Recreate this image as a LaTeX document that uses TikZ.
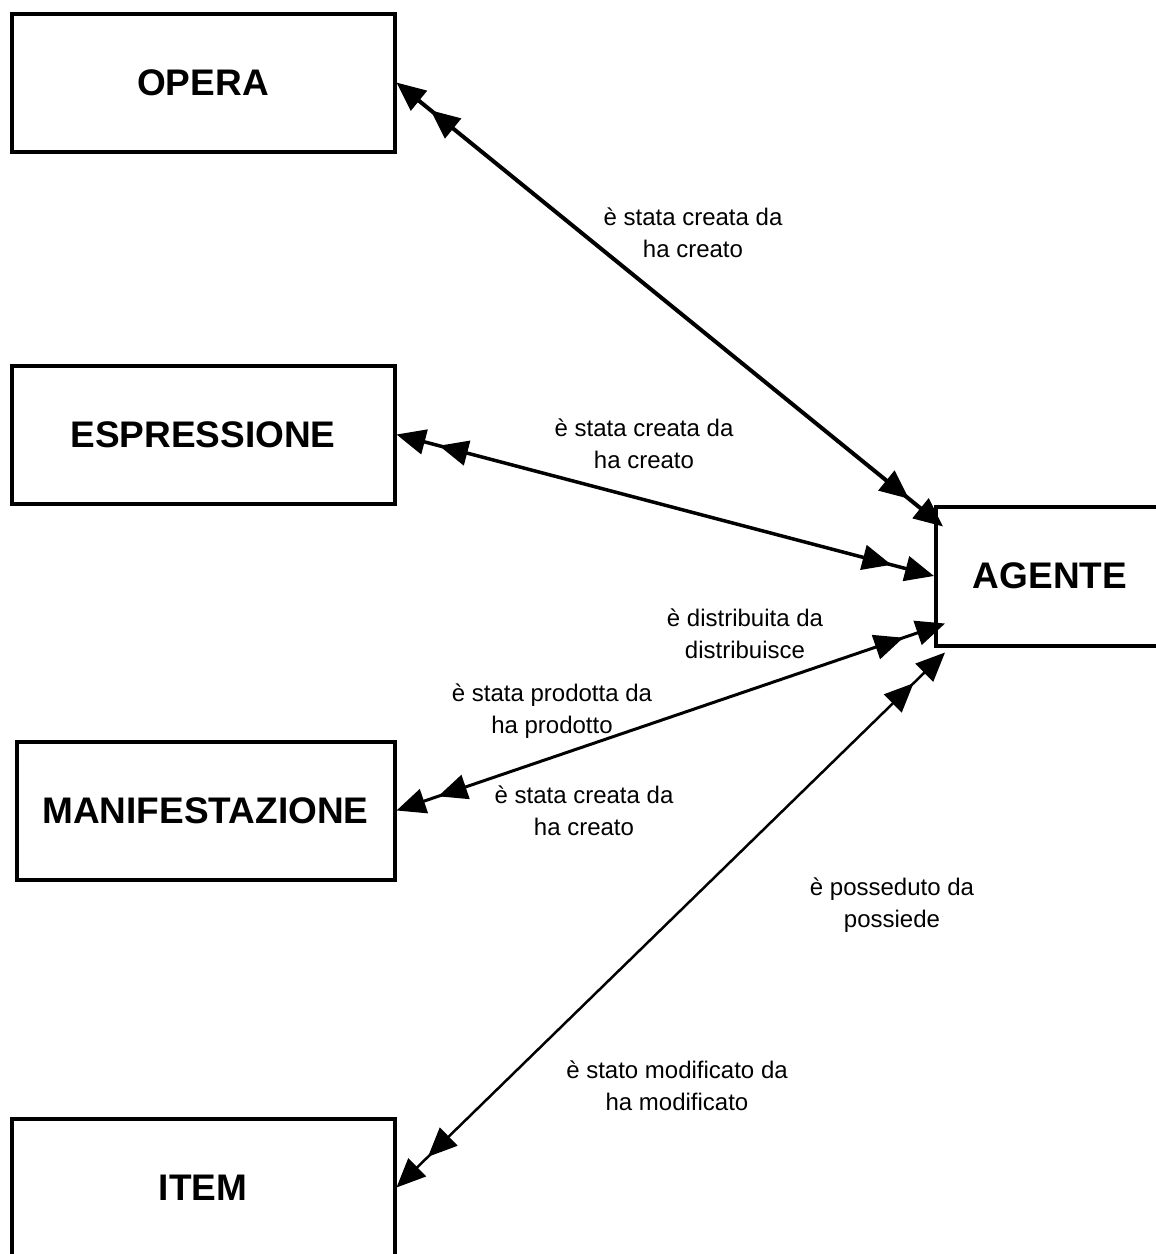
\documentclass[tikz,border=0pt]{standalone}
\usepackage{fontspec}
\setmainfont{Liberation Sans}
\usetikzlibrary{arrows.meta}
\tikzset{
  entity/.style={draw, line width=4pt, minimum width=383pt, minimum height=138pt, inner sep=0pt, font=\fontsize{37}{44}\selectfont\bfseries},
  lbl/.style={align=center, inner sep=0pt, font=\fontsize{24}{32}\selectfont},
  dbl/.style={arrows={Triangle[length=29pt,width=25pt]Triangle[length=29pt,width=25pt,sep=15pt]-Triangle[length=29pt,width=25pt,sep=15pt]Triangle[length=29pt,width=25pt]}}
}
\begin{document}
\begin{tikzpicture}[x=1pt,y=-1pt]
\useasboundingbox (0,0) rectangle (1156,1254);
\node[entity] (opera) at (203,82.5) {OPERA};
\node[entity] (espr) at (203,434.5) {ESPRESSIONE};
\node[entity, minimum width=378pt] (manif) at (205.5,810.5) {MANIFESTAZIONE};
\node[entity] (item) at (203,1187.5) {ITEM};
\node[entity, minimum width=228pt, minimum height=139pt] (agente) at (1050,576) {AGENTE};

\draw[dbl, line width=4pt] (opera.east) -- ([shift={(9,22)}]agente.north west);
\draw[dbl, line width=3.5pt] (espr.east) -- (agente.west);
\draw[dbl, line width=3pt] (manif.east) -- ([shift={(11,-24)}]agente.south west);
\draw[dbl, line width=2.5pt] (item.east) -- ([shift={(11,5)}]agente.south west);

\node[lbl] (l1) at (693,233) {è stata creata da\\ha creato};
\node[lbl] (l2) at (644,444) {è stata creata da\\ha creato};
\node[lbl] (l3) at (745,634) {è distribuita da\\distribuisce};
\node[lbl] (l4) at (552,711) {è stata prodotta da\\ha prodotto};
\node[lbl] (l5) at (584,811) {è stata creata da\\ha creato};
\node[lbl] (l6) at (892,905) {è posseduto da\\possiede};
\node[lbl] (l7) at (677,1086) {è stato modificato da\\ha modificato};
\end{tikzpicture}
\end{document}
